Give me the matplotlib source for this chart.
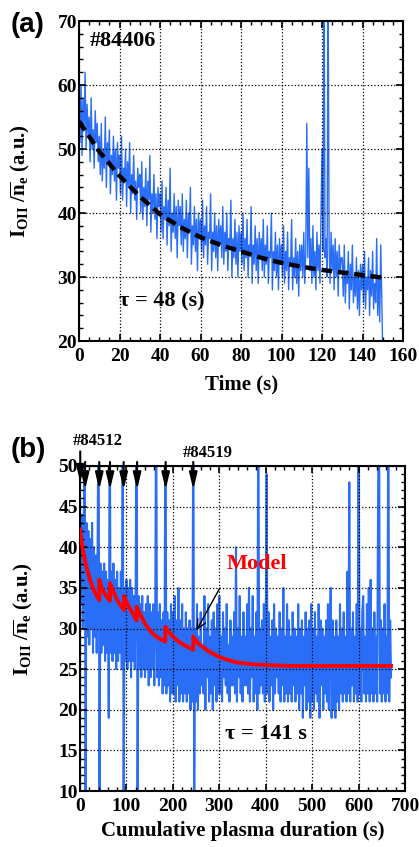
import matplotlib
matplotlib.use('Agg')
import matplotlib.pyplot as plt
import numpy as np
from matplotlib.ticker import MultipleLocator

plt.rcParams['font.family'] = ['Liberation Serif', 'DejaVu Serif']
plt.rcParams['font.weight'] = 'bold'
plt.rcParams['axes.labelweight'] = 'bold'
plt.rcParams['mathtext.fontset'] = 'custom'
plt.rcParams['mathtext.rm'] = 'Liberation Serif:bold'
plt.rcParams['mathtext.bf'] = 'Liberation Serif:bold'
plt.rcParams['mathtext.it'] = 'Liberation Serif:bold'

# ---------------- data: panel (a), shot #84406 (sampled every 0.5 s) ----------------
a_dt = 0.5
a_signal = [
    56, 51, 60, 49, 58, 53, 62, 50, 57, 52, 55, 48, 58, 50, 53, 47, 56, 51, 54, 48,
    52, 46, 54, 45, 50, 47, 55, 44, 51, 48, 53, 43, 49, 46, 52, 45, 50, 42, 51, 47,
    49, 43, 52, 42, 47, 45, 50, 41, 48, 44, 51, 40, 46, 43, 49, 42, 45, 39, 47, 44,
    46, 40, 48, 39, 44, 41, 47, 38, 45, 42, 49, 37, 43, 40, 46, 39, 43, 36, 44, 41,
    43, 37, 45, 36, 41, 39, 44, 35, 42, 38, 47, 34, 40, 37, 43, 36, 41, 33, 42, 38,
    41, 35, 43, 34, 39, 36, 42, 33, 40, 37, 44, 32, 38, 35, 41, 34, 39, 31, 40, 36,
    39, 34, 42, 33, 38, 35, 41, 32, 37, 36, 43, 31, 37, 34, 40, 33, 38, 31, 39, 35,
    38, 33, 41, 32, 37, 34, 40, 31, 36, 35, 42, 30, 36, 33, 39, 32, 37, 30, 38, 34,
    37, 32, 40, 31, 36, 33, 39, 30, 35, 34, 41, 29, 35, 32, 38, 31, 36, 29, 37, 33,
    36, 31, 39, 30, 35, 32, 38, 29, 34, 33, 40, 28, 34, 31, 37, 30, 35, 28, 36, 32,
    35, 30, 38, 29, 34, 31, 37, 28, 33, 32, 39, 28, 33, 30, 36, 29, 34, 27, 35, 31,
    35, 30, 37, 29, 34, 54, 33, 47, 31, 36, 29, 38, 30, 34, 28, 37, 31, 35, 29, 39,
    50, 34, 80, 33, 36, 30, 78, 35, 29, 37, 31, 35, 28, 36, 30, 34, 27, 35, 31, 33,
    33, 27, 35, 26, 31, 29, 34, 25, 32, 28, 35, 26, 30, 27, 33, 25, 31, 24, 32, 28,
    32, 26, 34, 25, 30, 28, 33, 24, 31, 27, 34, 25, 29, 26, 36, 24, 30, 23, 35, 27,
    18,
]
a_fit_t = [0, 10, 20, 30, 40, 50, 60, 70, 80, 90, 100, 110, 120, 130, 140, 150]
a_fit_v = [54.3, 49.6, 45.8, 42.6, 39.8, 37.8, 36.2, 35.0, 34.0, 33.0, 32.2, 31.6, 31.1, 30.7, 30.3, 29.9]

# ---------------- data: panel (b), shots #84512-#84519 (sampled every 2 s) ----------------
b_dt = 2.0
b_signal = [
    46, 33, 44, 30, 41, 60, 8, 43, 29, 42, 28, 41, 30, 43, 27, 40, 29, 39, 27, 41, 60, 8, 38, 27, 37,
    28, 38, 26, 37, 27, 36, 19, 60, 27, 37, 26, 38, 27, 36, 25, 37, 26, 35, 27, 37, 25, 60, 8, 35, 26,
    36, 25, 35, 26, 36, 24, 35, 26, 34, 25, 36, 60, 8, 34, 25, 33, 24, 34, 25, 32, 24, 33, 25, 34, 23,
    33, 24, 32, 25, 33, 23, 31, 60, 24, 32, 23, 33, 24, 31, 22, 32, 23, 60, 22, 32, 23, 31, 21, 33, 22,
    32, 22, 34, 21, 31, 23, 35, 21, 31, 22, 33, 21, 30, 22, 32, 21, 30, 22, 31, 20, 30, 21, 60, 8, 30,
    21, 33, 20, 29, 22, 32, 23, 28, 22, 34, 20, 30, 24, 33, 21, 29, 22, 31, 20, 32, 23, 30, 21, 33, 22,
    34, 22, 29, 21, 32, 24, 30, 23, 33, 22, 28, 21, 31, 23, 29, 23, 32, 22, 40, 21, 30, 24, 34, 22, 29,
    21, 32, 23, 29, 23, 33, 22, 35, 21, 30, 24, 34, 21, 29, 22, 32, 20, 60, 22, 30, 23, 31, 22, 33, 21,
    30, 49, 22, 32, 21, 29, 23, 31, 20, 33, 22, 30, 24, 29, 22, 32, 21, 30, 23, 35, 21, 29, 22, 33, 21,
    31, 22, 29, 21, 32, 23, 30, 21, 29, 22, 33, 20, 30, 22, 31, 19, 29, 23, 32, 20, 30, 21, 31, 19, 33,
    21, 30, 20, 32, 22, 29, 21, 33, 19, 31, 23, 30, 20, 29, 22, 31, 21, 33, 20, 30, 35, 19, 31, 20, 29,
    19, 31, 21, 29, 20, 33, 22, 30, 21, 32, 22, 29, 21, 37, 22, 48, 21, 30, 23, 32, 21, 29, 22, 33, 21,
    60, 22, 30, 21, 32, 34, 22, 29, 21, 33, 22, 35, 21, 36, 22, 30, 21, 32, 22, 29, 21, 46, 60, 22, 31,
    21, 30, 22, 33, 21, 29, 22, 60, 21, 31, 24,
]
# model curve, read piecewise (jumps at each new discharge)
b_model_t = [0, 5, 10, 15, 20, 25, 30, 35, 41.5,
             41.5, 47, 53, 59, 64.6,
             64.6, 70, 76, 82, 88, 94.8,
             94.8, 100, 106, 112, 117, 122,
             122, 130, 140, 150, 160, 170, 183.7,
             183.7, 190, 200, 210, 220, 230, 244,
             244, 250, 258, 270, 280, 300, 320, 340, 370, 400, 450, 670]
b_model_v = [42.2, 40.0, 38.6, 37.3, 36.3, 35.4, 34.7, 34.1, 33.5,
             36.0, 35.0, 34.3, 33.8, 33.4,
             35.6, 34.8, 34.0, 33.3, 32.8, 32.3,
             34.0, 33.3, 32.6, 32.0, 31.5, 31.0,
             32.7, 31.7, 30.6, 29.8, 29.2, 28.8, 28.4,
             30.2, 29.7, 29.0, 28.5, 28.1, 27.8, 27.4,
             29.0, 28.5, 28.0, 27.5, 27.1, 26.5, 26.1, 25.8, 25.6, 25.5, 25.4, 25.4]
b_shot_t = [0.5, 11, 41.5, 64.6, 94, 123, 184.5, 244]
b_shot_labels = ['#84512', '#84519']

BLUE = '#2a6ef7'

fig = plt.figure(figsize=(4.19, 8.47), dpi=100)
axa = fig.add_axes([79/419, 1-341/847, 324/419, 320/847])
axb = fig.add_axes([80/419, 1-791/847, 325/419, 325/847])


def style(ax, xmaj, xmin, ymaj, ymin):
    ax.xaxis.set_major_locator(MultipleLocator(xmaj))
    ax.xaxis.set_minor_locator(MultipleLocator(xmin))
    ax.yaxis.set_major_locator(MultipleLocator(ymaj))
    ax.yaxis.set_minor_locator(MultipleLocator(ymin))
    ax.tick_params(which='both', direction='in', top=True, right=True)
    ax.tick_params(which='major', length=5, width=1.2)
    ax.tick_params(which='minor', length=2.8, width=1.0)
    ax.tick_params(axis='y', pad=1.5, labelsize=14)
    ax.tick_params(axis='x', pad=5, labelsize=14)
    for s in ax.spines.values():
        s.set_linewidth(1.5)
    ax.grid(True, which='major', linestyle=':', color='k', linewidth=0.9)
    ax.set_axisbelow(False)


ylab = r'$\mathrm{I}_{\mathrm{OII}}$ /$\overline{\mathrm{n}}_{\mathrm{e}}$ (a.u.)'

# ---------------- panel (a) ----------------
a_t = np.arange(len(a_signal)) * a_dt
axa.plot(a_t, a_signal, color=BLUE, lw=1.0, zorder=2)
axa.plot(a_fit_t, a_fit_v, color='k', lw=3.2, dashes=(2.4, 1.3), zorder=3)
axa.set_xlim(0, 160)
axa.set_ylim(20, 70)
style(axa, 20, 5, 10, 2)
axa.set_xlabel('Time (s)', fontsize=15, fontweight='bold')
axa.xaxis.set_label_coords(0.503, -0.105)
axa.set_ylabel(ylab, fontsize=15, fontweight='bold')
axa.yaxis.set_label_coords(-0.145, 0.5)
axa.text(21.5, 66.8, '#84406', fontsize=16, fontweight='bold', ha='center', va='center')
axa.text(19.9, 26.1, r'τ = 48 (s)', fontsize=16, fontweight='bold', ha='left', va='center')

# ---------------- panel (b) ----------------
b_t = np.arange(len(b_signal)) * b_dt
axb.plot(b_t, b_signal, color=BLUE, lw=1.5, zorder=2)
axb.plot(b_model_t, b_model_v, color='#ff0000', lw=2.8, zorder=4)
axb.set_xlim(0, 700)
axb.set_ylim(10, 50)
style(axb, 100, 20, 5, 1)
axb.set_xlabel('Cumulative plasma duration (s)', fontsize=15, fontweight='bold')
axb.xaxis.set_label_coords(0.5015, -0.092)
axb.set_ylabel(ylab, fontsize=15, fontweight='bold')
axb.yaxis.set_label_coords(-0.138, 0.529)

for i, ts in enumerate(b_shot_t):
    top = 51.8 if i == 0 else 50.5
    tip = 48.0 if i == 0 else 47.1
    axb.annotate('', xy=(ts, tip), xytext=(ts, top), annotation_clip=False,
                 arrowprops=dict(arrowstyle='-|>,head_length=1.0,head_width=0.24',
                                 color='k', lw=1.5, mutation_scale=10,
                                 shrinkA=0, shrinkB=0), zorder=6)
axb.text(38.8, 53.1, b_shot_labels[0], fontsize=12, fontweight='bold', ha='center', va='center', clip_on=False)
axb.text(275.7, 51.66, b_shot_labels[1], fontsize=12, fontweight='bold', ha='center', va='center', clip_on=False)

axb.annotate('Model', xy=(251, 29.8), xytext=(315, 37.9), color='#ff0000', fontsize=16,
             fontweight='bold', ha='left', va='center', zorder=7,
             arrowprops=dict(arrowstyle='->', color='k', lw=1.0, shrinkA=9, shrinkB=0,
                             relpos=(0.02, 0.0)))
axb.text(312, 17.0, r'τ = 141 s', fontsize=16, fontweight='bold', ha='left', va='center')

fig.text(28/419, 1-25/847, '(a)', fontsize=20, fontweight='bold', family='Liberation Sans',
         ha='center', va='center')
fig.text(28/419, 1-450/847, '(b)', fontsize=20, fontweight='bold', family='Liberation Sans',
         ha='center', va='center')

fig.savefig('out.png', dpi=100)
